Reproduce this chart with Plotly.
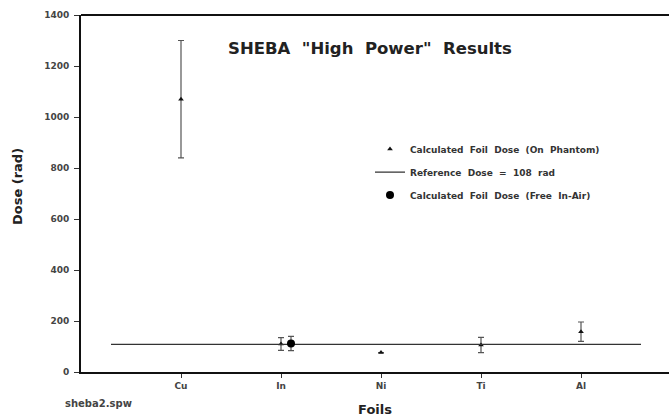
import plotly.graph_objects as go

foils = ["Cu", "In", "Ni", "Ti", "Al"]
phantom_dose = [1070, 110, 76, 106, 158]
phantom_err = [230, 25, 0, 30, 38]
air_foils = ["In"]
air_dose = [112]
air_err = [28]
reference_dose = 108
ref_span = [0.3, 5.6]
ytick_vals = [0, 200, 400, 600, 800, 1000, 1200, 1400]

pos = {f: i + 1 for i, f in enumerate(foils)}
FONT = "Liberation Sans, Arial, sans-serif"
WIDE = "DejaVu Sans, Verdana, sans-serif"
INK = "#2a2a2a"
NB = "\u00a0"

fig = go.Figure()
fig.add_trace(go.Scatter(
    x=[pos[f] for f in foils], y=phantom_dose, mode="markers",
    marker=dict(symbol="triangle-up", size=5, color="#111"),
    error_y=dict(type="data", array=phantom_err, visible=True, color="#555", thickness=1.2, width=3),
    name=f"Calculated{NB}{NB}Foil{NB}{NB}Dose{NB}{NB}(On{NB}{NB}Phantom)", legendgroup="a"))
fig.add_trace(go.Scatter(
    x=ref_span, y=[reference_dose, reference_dose], mode="lines",
    line=dict(color="#333", width=1.3),
    name=f"Reference{NB}{NB}Dose{NB}{NB}={NB}{NB}108{NB}{NB}rad", legendgroup="b"))
fig.add_trace(go.Scatter(
    x=[pos[f] + 0.1 for f in air_foils], y=air_dose, mode="markers",
    marker=dict(symbol="circle", size=8, color="#000"),
    error_y=dict(type="data", array=air_err, visible=True, color="#555", thickness=1.2, width=3),
    name=f"Calculated{NB}{NB}Foil{NB}{NB}Dose{NB}{NB}(Free{NB}{NB}In-Air)", legendgroup="c"))

PW = 588.0  # plot area width in px
fig.update_layout(
    width=669, height=420,
    margin=dict(l=81, r=0, t=15, b=48),
    paper_bgcolor="white", plot_bgcolor="white",
    font=dict(family=FONT, color=INK),
    showlegend=True,
    legend=dict(x=(370 - 81) / PW, y=0.665, xanchor="left", yanchor="top",
                font=dict(size=9, color="#333", family=WIDE, weight="bold"),
                bgcolor="rgba(0,0,0,0)", tracegroupgap=4, itemwidth=30),
    xaxis=dict(range=[0, 5.88], tickvals=[pos[f] for f in foils], ticktext=foils,
               showline=True, linecolor="#111", linewidth=2, mirror=False,
               ticks="outside", ticklen=4, tickcolor="#333", showgrid=False, zeroline=False,
               tickfont=dict(size=9, color="#444", family=WIDE, weight="bold"),
               title=dict(text="<b>Foils</b>", font=dict(size=13, color="#222", family=WIDE), standoff=15)),
    yaxis=dict(range=[0, 1400], tickvals=ytick_vals,
               showline=True, linecolor="#111", linewidth=2, mirror=False,
               ticks="outside", ticklen=5, tickcolor="#333", showgrid=False, zeroline=False,
               ticklabelstandoff=3,
               tickfont=dict(size=9, color="#444", family=WIDE, weight="bold")),
    shapes=[dict(type="line", xref="x domain", yref="y domain", x0=0, x1=1.02, y0=1, y1=1,
                 line=dict(color="#111", width=2))],
    annotations=[
        dict(text=f"<b>SHEBA{NB}{NB}\"High{NB}{NB}Power\"{NB}{NB}Results</b>", xref="paper", yref="paper",
             x=(370 - 81) / PW, y=0.905, xanchor="center", yanchor="middle", showarrow=False,
             font=dict(size=16.5, color="#222", family=WIDE)),
        dict(text="<b>Dose (rad)</b>", xref="paper", yref="paper", textangle=-90,
             x=(17 - 81) / PW, y=0.518, xanchor="center", yanchor="middle", showarrow=False,
             font=dict(size=13, color="#222", family=WIDE)),
        dict(text="<b>sheba2.spw</b>", xref="paper", yref="paper", x=(98 - 81) / PW, y=-0.087,
             xanchor="center", yanchor="middle", showarrow=False,
             font=dict(size=10, color="#444", family=WIDE)),
    ],
)

fig.write_html("out.html", config={"displayModeBar": False},
               post_script="document.body.style.margin='0';document.body.style.overflow='hidden';")
